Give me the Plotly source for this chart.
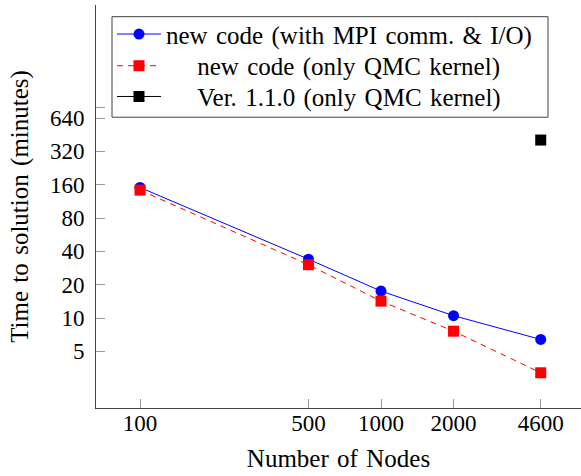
import plotly.graph_objects as go

nodes = [100, 500, 1000, 2000, 4600]
time_full = [151, 34, 17.5, 10.5, 6.4]
time_kernel = [143, 30.3, 14.2, 7.6, 3.2]
old_nodes = [4600]
old_time = [405]

x_ticks = [100, 500, 1000, 2000, 4600]
y_ticks = [5, 10, 20, 40, 80, 160, 320, 640, 800]
y_ticktext = ["5", "10", "20", "40", "80", "160", "320", "640", ""]

FONT = "'Liberation Serif', 'Times New Roman', Times, serif"
NB = "\u00a0"
SP = "\u2004"


def tex(s):
    return s.replace(" ", SP)


fig = go.Figure()
fig.add_trace(go.Scatter(
    x=nodes, y=time_full, mode="lines+markers",
    name=tex("new code (with MPI comm. & I/O)"), legend="legend",
    line=dict(color="rgb(0,0,255)", width=1),
    marker=dict(symbol="circle", size=11, color="rgb(0,0,255)"),
))
fig.add_trace(go.Scatter(
    x=nodes, y=time_kernel, mode="lines+markers",
    name=NB * 5 + tex("new code (only QMC kernel)"), legend="legend2",
    line=dict(color="rgb(255,0,0)", width=1, dash="6px,5px"),
    marker=dict(symbol="square", size=11, color="rgb(255,0,0)"),
))
fig.add_trace(go.Scatter(
    x=old_nodes, y=old_time, mode="lines+markers",
    name=NB * 5 + tex("Ver. 1.1.0 (only QMC kernel)"), legend="legend3",
    line=dict(color="black", width=1),
    marker=dict(symbol="square", size=11, color="black"),
))

xr = [1.8174, 3.8299]
yr = [0.187, 3.8275]

PLOT_TOP, PLOT_BOT, PLOT_L, PLOT_R = 5.0, 408.3, 96.0, 581.0


def px_x(p):
    return (p - PLOT_L) / (PLOT_R - PLOT_L)


def px_y(p):
    return (PLOT_BOT - p) / (PLOT_BOT - PLOT_TOP)


def leg(ypix):
    return dict(
        x=px_x(112), y=px_y(ypix), xanchor="left", yanchor="middle",
        bgcolor="rgba(0,0,0,0)", borderwidth=0,
        font=dict(family=FONT, size=25, color="black"),
        itemwidth=44,
    )


fig.update_layout(
    width=581, height=476,
    margin=dict(l=96, r=0, t=5, b=68),
    paper_bgcolor="white", plot_bgcolor="white",
    font=dict(family=FONT, size=23, color="black"),
    showlegend=True,
    legend=leg(34.3),
    legend2=leg(66.0),
    legend3=leg(96.8),
    shapes=[dict(
        type="rect", xref="paper", yref="paper",
        x0=px_x(112), x1=px_x(548), y0=px_y(117.3), y1=px_y(16.7),
        fillcolor="white", line=dict(color="#404040", width=1), layer="above",
    )],
    xaxis=dict(
        type="log", range=xr, tickvals=x_ticks, ticktext=[str(v) for v in x_ticks],
        ticks="inside", ticklen=9, tickcolor="#999999", tickwidth=1,
        showline=True, linecolor="#444444", linewidth=1,
        showgrid=False, zeroline=False,
        tickfont=dict(family=FONT, size=23),
        title=dict(text=tex("Number of Nodes"), font=dict(family=FONT, size=25), standoff=14),
        ticklabelstandoff=-6,
    ),
    yaxis=dict(
        type="log", range=yr, tickvals=y_ticks, ticktext=y_ticktext,
        ticks="inside", ticklen=9, tickcolor="#999999", tickwidth=1,
        showline=True, linecolor="#444444", linewidth=1,
        showgrid=False, zeroline=False,
        tickfont=dict(family=FONT, size=23),
        title=dict(text=tex("Time to solution (minutes)"), font=dict(family=FONT, size=25), standoff=14),
        ticklabelstandoff=6,
    ),
    xaxis2=dict(
        type="log", range=xr, tickvals=x_ticks, overlaying="x", side="top", anchor="y",
        matches="x", ticks="inside", ticklen=9, tickcolor="#999999", tickwidth=1,
        showline=True, linecolor="#444444", linewidth=1,
        showgrid=False, zeroline=False, showticklabels=False,
    ),
    yaxis2=dict(
        type="log", range=yr, tickvals=y_ticks, overlaying="y", side="right", anchor="x",
        matches="y", ticks="inside", ticklen=9, tickcolor="#999999", tickwidth=1,
        showline=False, showgrid=False, zeroline=False, showticklabels=False,
    ),
)

fig.write_html("out.html")
